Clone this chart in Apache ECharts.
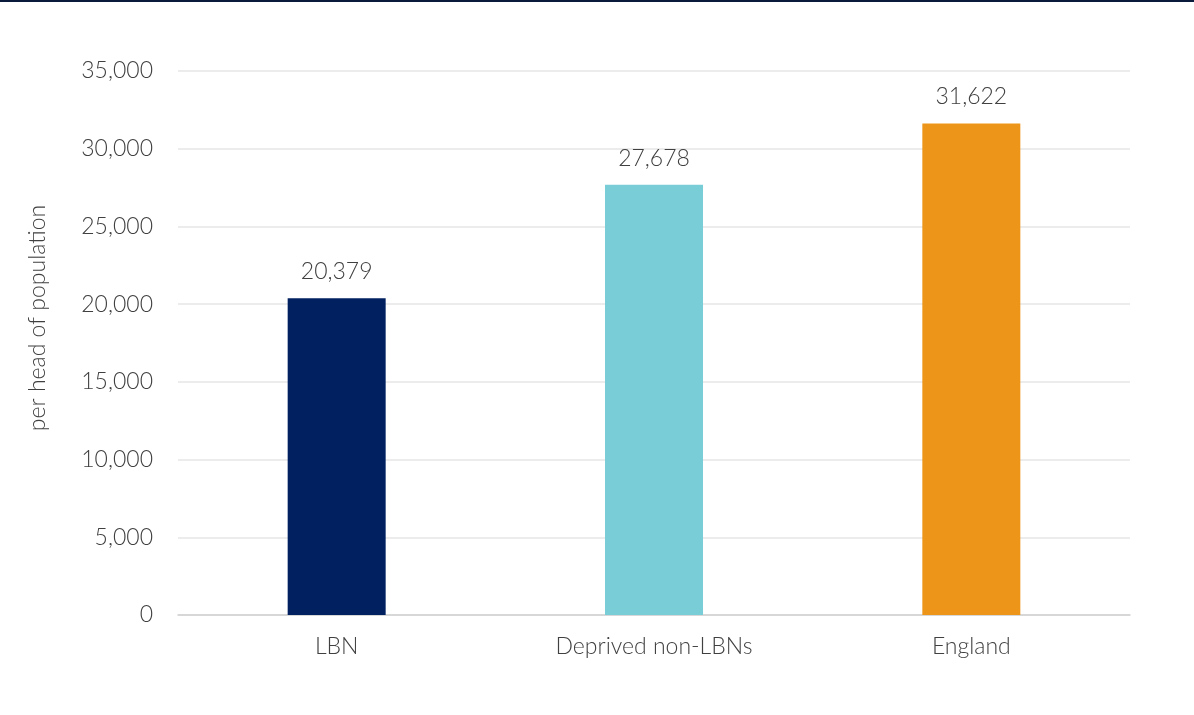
<!DOCTYPE html>
<html><head><meta charset="utf-8">
<style>html,body{margin:0;padding:0;background:#fff}#c{width:1194px;height:715px}</style>
<script src="https://cdn.jsdelivr.net/npm/echarts@6/dist/echarts.min.js"></script>
</head><body><div id="c"></div>
<script>
const categories = ["LBN", "Deprived non-LBNs", "England"];
const values = [20379, 27678, 31622];
const colors = ["#002060", "#78CDD6", "#EC9518"];
const yTicks = { min: 0, max: 35000, interval: 5000 };
const yName = "per head of population";

const chart = echarts.init(document.getElementById('c'), null, {renderer: 'canvas'});
const font = 'Lato, "Open Sans", sans-serif';
chart.setOption({
  animation: false,
  graphic: [
    {type: 'rect', left: 0, top: 0, shape: {width: 1194, height: 2}, style: {fill: '#0a1a3a'}},
    {type: 'text', x: 38, y: 318, rotation: Math.PI/2,
     style: {text: yName, font: '300 23px ' + font, fill: '#404040', align: 'center', verticalAlign: 'middle'}}
  ],
  grid: {left: 178, right: 64, top: 71, bottom: 100},
  xAxis: {
    type: 'category', data: categories,
    axisLine: {lineStyle: {color: '#d0d0d0', width: 1.5}},
    axisTick: {show: false},
    axisLabel: {color: '#404040', fontSize: 23, fontWeight: 300, fontFamily: font, margin: 20}
  },
  yAxis: {
    type: 'value', min: yTicks.min, max: yTicks.max, interval: yTicks.interval,
    axisLine: {show: false}, axisTick: {show: false},
    splitLine: {lineStyle: {color: '#e6e6e6', width: 1.5}},
    axisLabel: {color: '#404040', fontSize: 23, fontWeight: 300, fontFamily: font, margin: 25,
      formatter: v => v.toLocaleString('en-US')}
  },
  series: [{
    type: 'bar', barWidth: 98,
    data: values.map((v, i) => ({value: v, itemStyle: {color: colors[i]}})),
    label: {show: true, position: 'top', distance: 15, color: '#404040', fontSize: 23, fontWeight: 300, fontFamily: font,
      formatter: p => p.value.toLocaleString('en-US')}
  }]
});
</script></body></html>
